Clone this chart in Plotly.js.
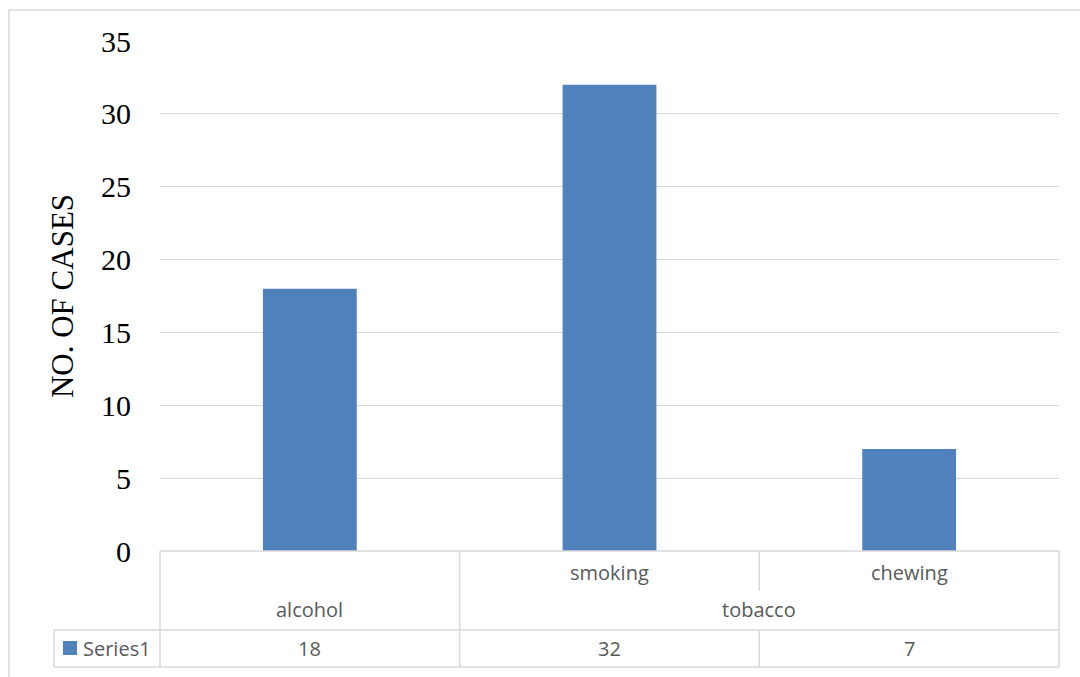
<!DOCTYPE html>
<html>
<head>
<meta charset="utf-8">
<script src="https://cdn.plot.ly/plotly-3.0.1.min.js"></script>
<style>html,body{margin:0;padding:0;background:#fff;}#chart{width:1080px;height:677px;}</style>
</head>
<body>
<div id="chart"></div>
<script>
// ---- data ----
const categories = ['alcohol', 'smoking', 'chewing'];
const subLabels = ['', 'smoking', 'chewing'];
const groupLabels = ['alcohol', 'tobacco', 'tobacco'];
const values = [18, 32, 7];
const seriesName = 'Series1';
const yTickValues = [0, 5, 10, 15, 20, 25, 30, 35];
const yAxisTitle = 'NO. OF CASES';

// ---- style ----
const W = 1080, H = 677;
const M = {l: 160, r: 21, t: 41, b: 126};
const PW = W - M.l - M.r, PH = H - M.t - M.b;
const px2x = px => (px - M.l) / PW;           // pixel -> paper x
const py2y = py => (H - M.b - py) / PH;       // pixel -> paper y
const barColor = '#4F81BD';
const lineColor = '#D9D9D9';
const tableFont = {family: 'Open Sans, sans-serif', size: 20, color: '#595959'};

const trace = {
  type: 'bar', x: categories, y: values, name: seriesName,
  marker: {color: barColor}, width: 0.313, showlegend: false, hoverinfo: 'none'
};

const annotations = [];
// sub-category labels (first row)
subLabels.forEach((s, i) => {
  if (s) annotations.push({xref: 'x', yref: 'paper', x: categories[i], y: py2y(572), text: s,
    showarrow: false, font: tableFont, xanchor: 'center', yanchor: 'middle'});
});
// group labels (second row), merged over consecutive same groups
let start = 0;
for (let i = 1; i <= groupLabels.length; i++) {
  if (i === groupLabels.length || groupLabels[i] !== groupLabels[start]) {
    annotations.push({xref: 'x', yref: 'paper', x: (start + i - 1) / 2, y: py2y(609), text: groupLabels[start],
      showarrow: false, font: tableFont, xanchor: 'center', yanchor: 'middle'});
    start = i;
  }
}
// value row
values.forEach((v, i) => {
  annotations.push({xref: 'x', yref: 'paper', x: i, y: py2y(648), text: String(v),
    showarrow: false, font: tableFont, xanchor: 'center', yanchor: 'middle'});
});
// legend key text
annotations.push({xref: 'paper', yref: 'paper', x: px2x(81), y: py2y(648), text: seriesName,
  showarrow: false, font: tableFont, xanchor: 'left', yanchor: 'middle'});

const L = {color: lineColor, width: 1.5};
const shapes = [
  // outer chart border
  {type: 'rect', xref: 'paper', yref: 'paper', x0: px2x(9), x1: px2x(1095), y0: py2y(10), y1: py2y(700), line: {color: lineColor, width: 1.5}},
  // table horizontal lines
  {type: 'line', xref: 'paper', yref: 'paper', x0: px2x(54), x1: 1, y0: py2y(630), y1: py2y(630), line: L},
  {type: 'line', xref: 'paper', yref: 'paper', x0: px2x(54), x1: 1, y0: py2y(667), y1: py2y(667), line: L},
  {type: 'line', xref: 'paper', yref: 'paper', x0: 0, x1: 1, y0: 0, y1: 0, line: L},
  // table vertical lines
  {type: 'line', xref: 'paper', yref: 'paper', x0: px2x(54), x1: px2x(54), y0: py2y(630), y1: py2y(667), line: L},
  {type: 'line', xref: 'paper', yref: 'paper', x0: 0, x1: 0, y0: 0, y1: py2y(667), line: L},
  {type: 'line', xref: 'paper', yref: 'paper', x0: 1, x1: 1, y0: 0, y1: py2y(667), line: L},
  {type: 'line', xref: 'x', yref: 'paper', x0: 0.5, x1: 0.5, y0: 0, y1: py2y(667), line: L},
  {type: 'line', xref: 'x', yref: 'paper', x0: 1.5, x1: 1.5, y0: 0, y1: py2y(591), line: L},
  {type: 'line', xref: 'x', yref: 'paper', x0: 1.5, x1: 1.5, y0: py2y(630), y1: py2y(667), line: L},
  // legend key square
  {type: 'rect', xref: 'paper', yref: 'paper', x0: px2x(63), x1: px2x(77), y0: py2y(641), y1: py2y(655),
   fillcolor: barColor, line: {width: 0}}
];

const layout = {
  width: W, height: H, margin: M,
  paper_bgcolor: '#ffffff', plot_bgcolor: '#ffffff',
  showlegend: false,
  xaxis: {type: 'category', range: [-0.5, 2.5], showticklabels: false, showgrid: false,
    zeroline: false, showline: false, ticks: '', fixedrange: true},
  yaxis: {range: [0, 35], tickvals: yTickValues, showgrid: true, gridcolor: lineColor, gridwidth: 1,
    zeroline: false, showline: false, ticks: '', ticklabelstandoff: 28,
    tickfont: {family: 'Liberation Serif, Times New Roman, serif', size: 30, color: '#000'},
    title: {text: yAxisTitle, standoff: 18,
      font: {family: 'Liberation Serif, Times New Roman, serif', size: 31, color: '#000'}}},
  annotations: annotations,
  shapes: shapes
};

Plotly.newPlot('chart', [trace], layout, {displayModeBar: false, staticPlot: true});
</script>
</body>
</html>
